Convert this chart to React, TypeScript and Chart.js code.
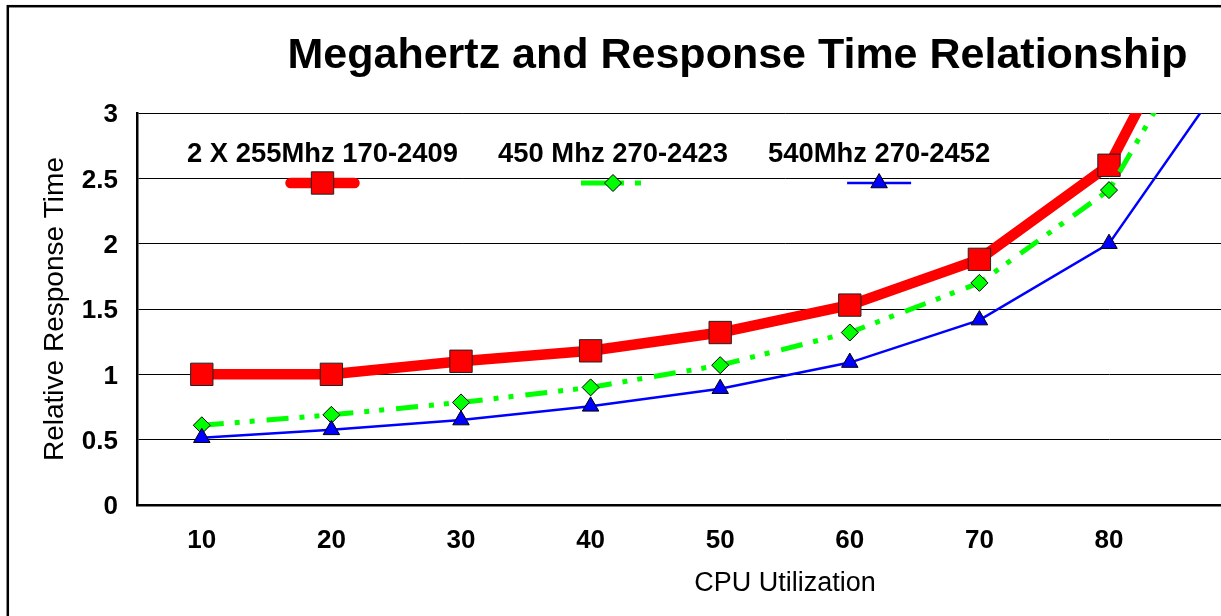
import React, { useEffect, useRef } from "react";
import { Chart, registerables } from "chart.js";
import { drawPoint } from "chart.js/helpers";

Chart.register(...registerables);

const FONT = '"Liberation Sans", Arial, Helvetica, sans-serif';

const titleText = "Megahertz and Response Time Relationship";
const xAxisTitle = "CPU Utilization";
const yAxisTitle = "Relative Response Time";

const categories = ["10", "20", "30", "40", "50", "60", "70", "80", "90", "100"];
const series2x255 = [1.0, 1.0, 1.1, 1.18, 1.32, 1.53, 1.88, 2.6, 4.5, null];
const series450 = [0.61, 0.69, 0.785, 0.9, 1.07, 1.32, 1.7, 2.41, 4.12, null];
const series540 = [0.515, 0.575, 0.65, 0.755, 0.89, 1.09, 1.415, 2.0, 3.42, null];
const seriesNames = ["2 X 255Mhz 170-2409", "450 Mhz 270-2423", "540Mhz 270-2452"];

const yMin = 0;
const yMax = 3;
const yStep = 0.5;

const chromePlugin = {
  id: "chrome",
  beforeDraw(chart: any) {
    const ctx = chart.ctx;
    ctx.save();
    ctx.fillStyle = "#ffffff";
    ctx.fillRect(0, 0, chart.width, chart.height);
    ctx.strokeStyle = "#000000";
    ctx.lineWidth = 2.5;
    ctx.strokeRect(7.8, 6.2, chart.width + 50, chart.height + 50);
    ctx.fillStyle = "#000000";
    ctx.font = `bold 43px ${FONT}`;
    ctx.textAlign = "center";
    ctx.textBaseline = "alphabetic";
    ctx.fillText(titleText, 737.5, 68);
    ctx.restore();
  },
  afterDatasetsDraw(chart: any) {
    const ctx = chart.ctx;
    const datasets = chart.data.datasets;
    ctx.save();
    ctx.font = `bold 27.4px ${FONT}`;
    ctx.textBaseline = "alphabetic";
    ctx.textAlign = "center";
    let x = 187;
    const gap = 40;
    const textY = 162;
    const sampleY = 183;
    const sampleLen = 64;
    datasets.forEach((ds: any) => {
      const w = ctx.measureText(ds.label).width;
      const cx = x + w / 2;
      ctx.fillStyle = "#000000";
      ctx.fillText(ds.label, cx, textY);
      ctx.save();
      ctx.strokeStyle = ds.borderColor;
      ctx.lineWidth = ds.borderWidth;
      ctx.lineCap = ds.borderCapStyle || "butt";
      ctx.setLineDash(ds.legendDash || []);
      ctx.beginPath();
      ctx.moveTo(cx - sampleLen / 2, sampleY);
      ctx.lineTo(cx + sampleLen / 2, sampleY);
      ctx.stroke();
      ctx.restore();
      ctx.save();
      ctx.fillStyle = ds.pointBackgroundColor;
      ctx.strokeStyle = ds.pointBorderColor;
      ctx.lineWidth = ds.pointBorderWidth;
      ctx.setLineDash([]);
      drawPoint(ctx, {
        pointStyle: ds.pointStyle,
        rotation: 0,
        radius: ds.pointRadius,
        borderWidth: ds.pointBorderWidth,
      }, cx, sampleY);
      ctx.restore();
      x += w + gap;
    });
    ctx.restore();
  },
};

export default function App() {
  const ref = useRef<HTMLCanvasElement>(null);
  useEffect(() => {
    const chart = new Chart(ref.current!, {
      type: "line",
      data: {
        labels: categories,
        datasets: [
          {
            label: seriesNames[0],
            data: series2x255,
            borderColor: "#ff0000",
            borderWidth: 10.5,
            borderCapStyle: "round",
            borderJoinStyle: "round",
            pointStyle: "rect",
            pointRadius: 15.8,
            pointHoverRadius: 15.8,
            pointBackgroundColor: "#ff0000",
            pointBorderColor: "#222222",
            pointBorderWidth: 1,
            tension: 0,
            order: 3,
          } as any,
          {
            label: seriesNames[1],
            data: series450,
            borderColor: "#00ff00",
            borderWidth: 5,
            borderDash: [22, 11, 5, 10, 5, 12],
            legendDash: [43, 11, 6, 20],
            pointStyle: "rectRot",
            pointRadius: 8.5,
            pointHoverRadius: 8.5,
            pointBackgroundColor: "#00ff00",
            pointBorderColor: "#000000",
            pointBorderWidth: 1,
            tension: 0,
            order: 2,
          } as any,
          {
            label: seriesNames[2],
            data: series540,
            borderColor: "#0000ff",
            borderWidth: 2.5,
            pointStyle: "triangle",
            pointRadius: 9.5,
            pointHoverRadius: 9.5,
            pointBackgroundColor: "#0000ff",
            pointBorderColor: "#000000",
            pointBorderWidth: 1,
            tension: 0,
            order: 1,
          } as any,
        ],
      },
      options: {
        responsive: false,
        animation: false,
        devicePixelRatio: 1,
        layout: { autoPadding: false, padding: { top: 113, right: 7, bottom: 0, left: 0 } },
        plugins: {
          legend: { display: false },
          title: { display: false },
          tooltip: { enabled: false },
        },
        scales: {
          x: {
            type: "category",
            offset: true,
            grid: { display: false, drawTicks: false },
            border: { display: true, color: "#000000", width: 2.5 },
            ticks: {
              color: "#000000",
              font: { family: FONT, size: 26, weight: "bold" },
              padding: 20,
              autoSkip: false,
              maxRotation: 0,
            },
            title: {
              display: true,
              text: xAxisTitle,
              color: "#000000",
              font: { family: FONT, size: 27 },
              padding: { top: 0, bottom: 16 },
            },
            afterFit(scale: any) {
              scale.height = 111;
              scale.paddingLeft = 0;
              scale.paddingRight = 0;
            },
          },
          y: {
            type: "linear",
            min: yMin,
            max: yMax,
            grid: { color: "#000000", lineWidth: 1, drawTicks: false },
            border: { display: true, color: "#000000", width: 2.5 },
            ticks: {
              stepSize: yStep,
              color: "#000000",
              font: { family: FONT, size: 26, weight: "bold" },
              padding: 19,
              labelOffset: 2,
              callback: (v: any) => String(v),
            },
            title: {
              display: true,
              text: yAxisTitle,
              color: "#000000",
              font: { family: FONT, size: 28 },
              padding: { top: 38, bottom: 0 },
            },
            afterFit(scale: any) {
              scale.width = 137;
            },
          },
        },
      } as any,
      plugins: [chromePlugin],
    });
    return () => chart.destroy();
  }, []);
  return (
    <div
      style={{
        position: "absolute",
        left: 0,
        top: 0,
        width: 1221,
        height: 616,
        overflow: "hidden",
        background: "#ffffff",
      }}
    >
      <canvas ref={ref} width={1440} height={616} style={{ display: "block", width: 1440, height: 616 }} />
    </div>
  );
}
